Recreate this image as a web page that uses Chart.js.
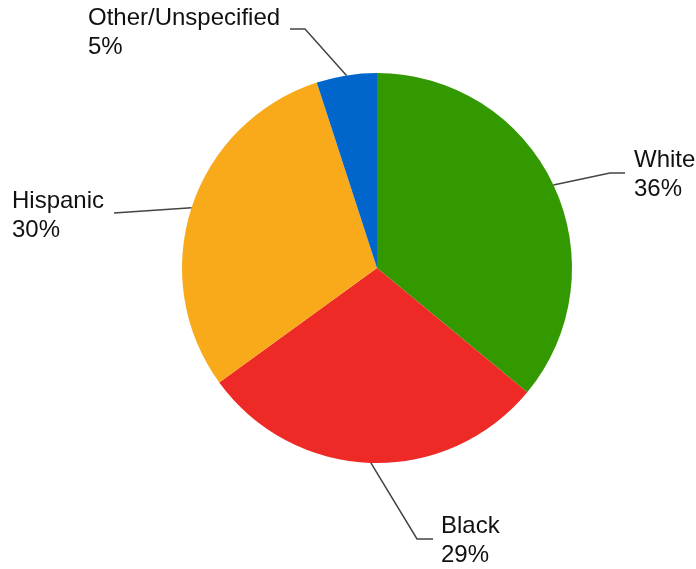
<!DOCTYPE html>
<html>
<head>
<meta charset="utf-8">
<script src="https://cdn.jsdelivr.net/npm/chart.js@4/dist/chart.umd.min.js"></script>
<style>
  html, body { margin: 0; padding: 0; background: #fff; }
  #wrap { width: 696px; height: 569px; position: relative; }
</style>
</head>
<body>
<div id="wrap"><canvas id="pie"></canvas></div>
<script>
const labels = ['White', 'Black', 'Hispanic', 'Other/Unspecified'];
const shares = [36, 29, 30, 5];
const colors = ['#339900', '#ee2a27', '#f9aa1b', '#0066cc'];

// callout placement (elbow / line end / text origin), one per slice
const callouts = [
  { elbow: [610, 173], end: [625, 173], text: [634, 167] },
  { elbow: [417, 539], end: [433, 539], text: [441, 533] },
  { elbow: [114, 213], end: [114, 213], text: [12, 208] },
  { elbow: [305, 29], end: [290, 29], text: [88, 25] }
];

const calloutPlugin = {
  id: 'callouts',
  afterDatasetsDraw(chart) {
    const ctx = chart.ctx;
    const arcs = chart.getDatasetMeta(0).data;
    ctx.save();
    ctx.strokeStyle = '#444';
    ctx.lineWidth = 1.5;
    ctx.fillStyle = '#111';
    ctx.font = '24px "Liberation Sans", Arial, sans-serif';
    ctx.textBaseline = 'alphabetic';
    ctx.textAlign = 'left';
    arcs.forEach((arc, i) => {
      const mid = (arc.startAngle + arc.endAngle) / 2;
      const sx = arc.x + arc.outerRadius * Math.cos(mid);
      const sy = arc.y + arc.outerRadius * Math.sin(mid);
      const c = callouts[i];
      ctx.beginPath();
      ctx.moveTo(sx, sy);
      ctx.lineTo(c.elbow[0], c.elbow[1]);
      ctx.lineTo(c.end[0], c.end[1]);
      ctx.stroke();
      ctx.fillText(labels[i], c.text[0], c.text[1]);
      ctx.fillText(shares[i] + '%', c.text[0], c.text[1] + 29);
    });
    ctx.restore();
  }
};

new Chart(document.getElementById('pie'), {
  type: 'pie',
  data: {
    labels,
    datasets: [{
      data: shares,
      backgroundColor: colors,
      borderWidth: 0
    }]
  },
  options: {
    responsive: true,
    maintainAspectRatio: false,
    animation: false,
    layout: { padding: { left: 182, right: 124, top: 73, bottom: 106 } },
    plugins: {
      legend: { display: false },
      tooltip: { enabled: false }
    }
  },
  plugins: [calloutPlugin]
});
</script>
</body>
</html>
